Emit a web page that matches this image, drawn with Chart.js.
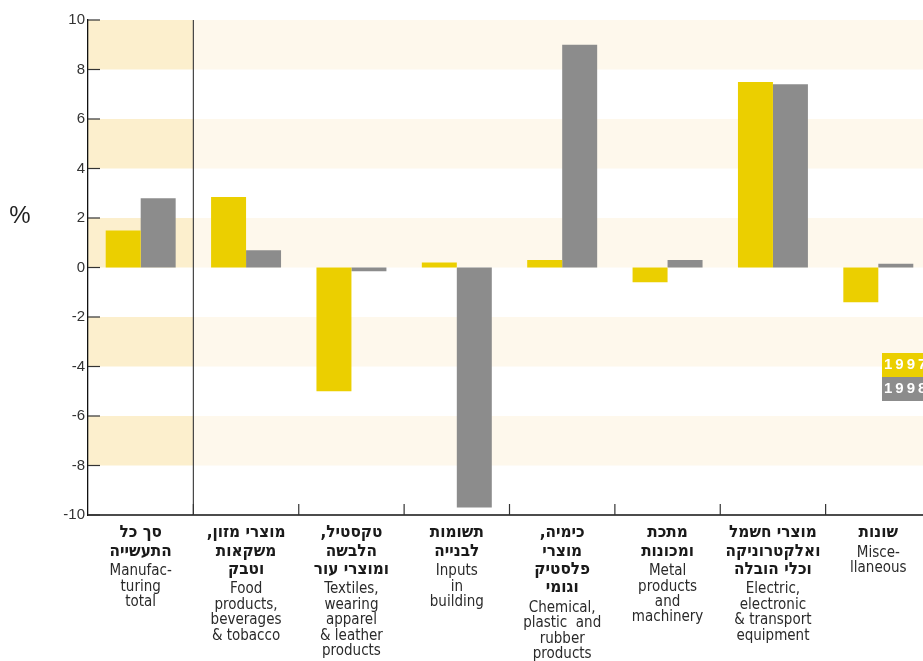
<!DOCTYPE html>
<html><head><meta charset="utf-8">
<script src="https://cdn.jsdelivr.net/npm/chart.js@4.4.1/dist/chart.umd.min.js"></script>
<style>
html,body{margin:0;padding:0;background:#fff;overflow:hidden;}
#wrap{position:relative;width:923px;height:661px;overflow:hidden;}
#box{position:absolute;left:0;top:0;width:940px;height:661px;}
</style></head><body>
<div id="wrap"><div id="box"><canvas id="c"></canvas></div></div>
<script>
const categoriesHe = [
  ["סך כל", "התעשייה"],
  ["מוצרי מזון,", "משקאות", "וטבק"],
  ["טקסטיל,", "הלבשה", "ומוצרי עור"],
  ["תשומות", "לבנייה"],
  ["כימיה,", "מוצרי", "פלסטיק", "וגומי"],
  ["מתכת", "ומכונות"],
  ["מוצרי חשמל", "ואלקטרוניקה", "וכלי הובלה"],
  ["שונות"]
];
const categoriesEn = [
  ["Manufac-", "turing", "total"],
  ["Food", "products,", "beverages", "& tobacco"],
  ["Textiles,", "wearing", "apparel", "& leather", "products"],
  ["Inputs", "in", "building"],
  ["Chemical,", "plastic  and", "rubber", "products"],
  ["Metal", "products", "and", "machinery"],
  ["Electric,", "electronic", "& transport", "equipment"],
  ["Misce-", "llaneous"]
];
const seriesNames = ["1997", "1998"];
const values1997 = [1.5, 2.85, -5.0, 0.2, 0.3, -0.6, 7.5, -1.4];
const values1998 = [2.8, 0.7, -0.15, -9.7, 9.0, 0.3, 7.4, 0.15];
const yTicks = [10, 8, 6, 4, 2, 0, -2, -4, -6, -8, -10];
const bands = [[8, 10], [4, 6], [0, 2], [-4, -2], [-8, -6]];
const yUnit = "%";

const YELLOW = "#ebcf00", GRAY = "#8c8c8c";
const NARROW = '"Liberation Sans Narrow", "DejaVu Sans Condensed", "Liberation Sans", sans-serif';

const decor = {
  id: 'decor',
  beforeDraw(chart) {
    const {ctx, chartArea: a, scales: {x, y}} = chart;
    const sep = (x.getPixelForValue(0) + x.getPixelForValue(1)) / 2;
    ctx.save();
    bands.forEach(([lo, hi]) => {
      const yt = y.getPixelForValue(hi), yb = y.getPixelForValue(lo);
      ctx.fillStyle = '#fcefcd';
      ctx.fillRect(a.left, yt, sep - a.left, yb - yt);
      ctx.fillStyle = '#fef8ec';
      ctx.fillRect(sep, yt, a.right - sep, yb - yt);
    });
    ctx.restore();
  },
  afterDatasetsDraw(chart) {
    const {ctx, chartArea: a, scales: {x, y}} = chart;
    const n = categoriesHe.length;
    ctx.save();
    // separator after total
    const sep = (x.getPixelForValue(0) + x.getPixelForValue(1)) / 2;
    ctx.strokeStyle = '#444'; ctx.lineWidth = 1.2;
    ctx.beginPath(); ctx.moveTo(sep, a.top); ctx.lineTo(sep, a.bottom); ctx.stroke();
    // x axis line
    ctx.strokeStyle = '#111'; ctx.lineWidth = 1.3;
    ctx.beginPath(); ctx.moveTo(a.left, a.bottom); ctx.lineTo(a.right, a.bottom); ctx.stroke();
    // boundary ticks
    ctx.strokeStyle = '#333'; ctx.lineWidth = 1.2;
    for (let i = 1; i < n; i++) {
      const bx = (x.getPixelForValue(i - 1) + x.getPixelForValue(i)) / 2;
      ctx.beginPath(); ctx.moveTo(bx, a.bottom - 11); ctx.lineTo(bx, a.bottom); ctx.stroke();
    }
    // y ticks inward
    yTicks.forEach(v => {
      const py = y.getPixelForValue(v);
      ctx.beginPath(); ctx.moveTo(a.left, py); ctx.lineTo(a.left + 12, py); ctx.stroke();
    });
    // category labels
    ctx.textAlign = 'center'; ctx.textBaseline = 'middle';
    for (let i = 0; i < n; i++) {
      const cx = x.getPixelForValue(i);
      let ly = a.bottom + 18;
      ctx.direction = 'rtl';
      ctx.font = 'bold 17px ' + NARROW;
      ctx.fillStyle = '#1a1a1a';
      categoriesHe[i].forEach((t, k) => { ctx.fillText(t, cx, ly + k * 18.3); });
      ly = ly + (categoriesHe[i].length - 1) * 18.3 + 20;
      ctx.direction = 'ltr';
      ctx.font = '15px ' + NARROW;
      ctx.fillStyle = '#2a2a2a';
      categoriesEn[i].forEach((t, k) => { ctx.fillText(t, cx, ly + k * 15.4); });
    }
    // unit label
    ctx.font = '24px "Liberation Sans", Arial, sans-serif';
    ctx.fillStyle = '#222';
    ctx.fillText(yUnit, 20, 216);
    // legend (cropped at right edge like the original)
    const lx = 882;
    [YELLOW, GRAY].forEach((col, k) => {
      const ty = 353 + k * 24;
      ctx.fillStyle = col;
      ctx.fillRect(lx, ty, 60, 24);
      ctx.fillStyle = '#fff';
      ctx.font = 'bold 15px "Liberation Sans", Arial, sans-serif';
      ctx.textAlign = 'left';
      try { ctx.letterSpacing = '3px'; } catch (e) {}
      ctx.fillText(seriesNames[k], lx + 2, ty + 12);
      try { ctx.letterSpacing = '0px'; } catch (e) {}
    });
    ctx.restore();
  }
};

new Chart(document.getElementById('c'), {
  type: 'bar',
  data: {
    labels: categoriesEn.map(l => l.join(' ')),
    datasets: [
      {label: seriesNames[0], data: values1997, backgroundColor: YELLOW, borderWidth: 0},
      {label: seriesNames[1], data: values1998, backgroundColor: GRAY, borderWidth: 0}
    ]
  },
  options: {
    responsive: true,
    maintainAspectRatio: false,
    animation: false,
    events: [],
    layout: {padding: {left: 0, top: 20, right: 9, bottom: 146}},
    datasets: {bar: {categoryPercentage: 0.664, barPercentage: 1.0}},
    plugins: {legend: {display: false}, tooltip: {enabled: false}},
    scales: {
      x: {display: false, offset: true},
      y: {
        min: -10, max: 10,
        afterFit(s) { s.width = 88; },
        afterBuildTicks(s) { s.ticks = yTicks.map(v => ({value: v})); },
        ticks: {
          autoSkip: false, padding: 3, color: '#333',
          font: {family: '"Liberation Sans", Arial, sans-serif', size: 15}
        },
        grid: {display: false, drawTicks: false},
        border: {display: true, color: '#111', width: 1.3}
      }
    }
  },
  plugins: [decor]
});
</script>
</body></html>
